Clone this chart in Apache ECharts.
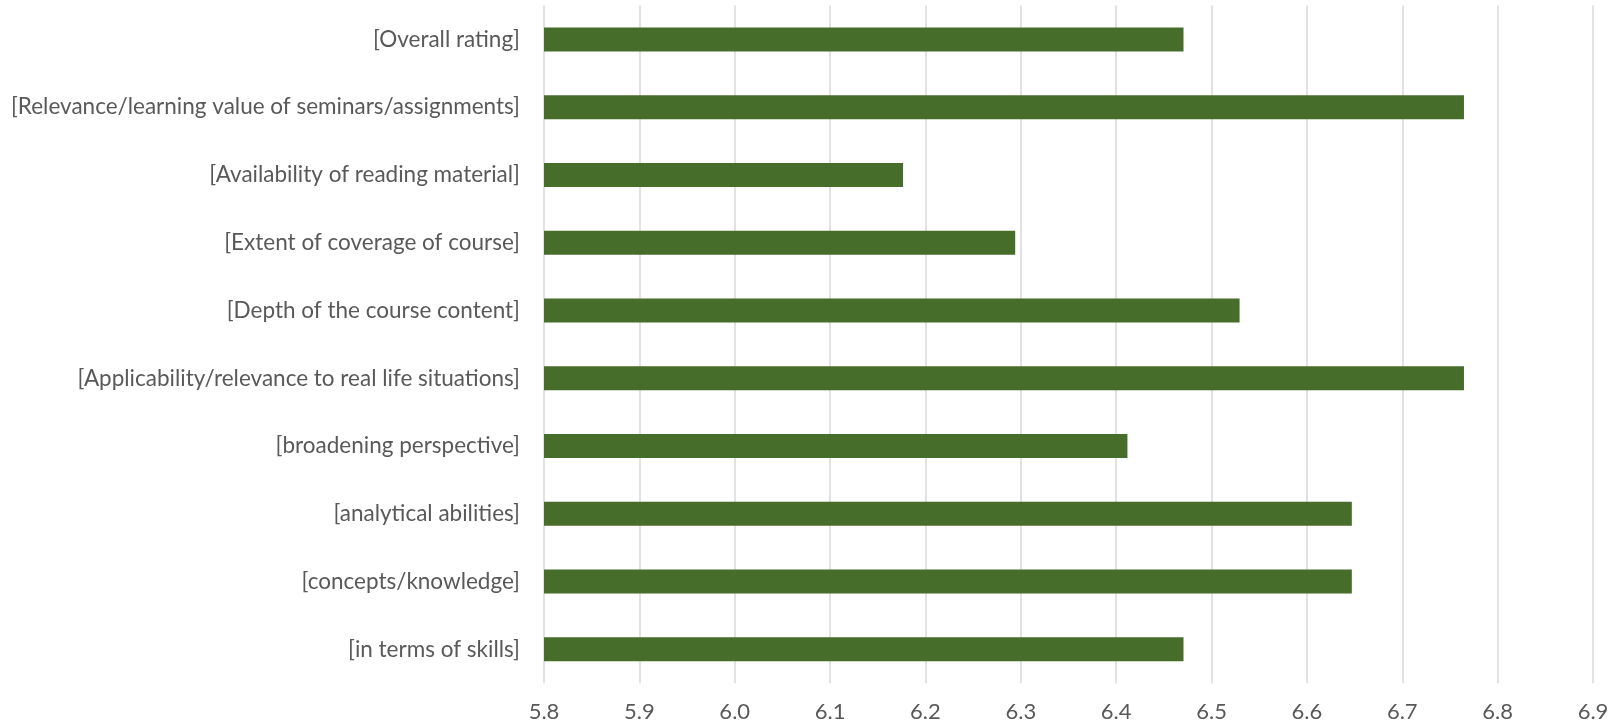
<!DOCTYPE html>
<html>
<head>
<meta charset="utf-8">
<script src="https://cdn.jsdelivr.net/npm/echarts@6/dist/echarts.min.js"></script>
<style>
html,body{margin:0;padding:0;background:#fff;}
#chart{width:1619px;height:728px;}
</style>
</head>
<body>
<div id="chart"></div>
<script>
const categories = [
  "[Overall rating]",
  "[Relevance/learning value of seminars/assignments]",
  "[Availability of reading material]",
  "[Extent of coverage of course]",
  "[Depth of the course content]",
  "[Applicability/relevance to real life situations]",
  "[broadening perspective]",
  "[analytical abilities]",
  "[concepts/knowledge]",
  "[in terms of skills]"
];
const values = [6.4706, 6.7647, 6.1765, 6.2941, 6.5294, 6.7647, 6.4118, 6.6471, 6.6471, 6.4706];
const xMin = 5.8, xMax = 6.9, xStep = 0.1;

const chart = echarts.init(document.getElementById('chart'), null, {renderer: 'canvas'});
chart.setOption({
  animation: false,
  backgroundColor: '#ffffff',
  grid: {left: 544, right: 26, top: 5.6, bottom: 44.8, containLabel: false},
  xAxis: {
    type: 'value', min: xMin, max: xMax, interval: xStep,
    axisLine: {show: false}, axisTick: {show: false},
    splitLine: {show: true, lineStyle: {color: '#d9d9d9', width: 1.5}},
    axisLabel: {color: '#595959', fontFamily: 'Lato', fontSize: 22, margin: 18,
      formatter: v => v.toFixed(1)}
  },
  yAxis: {
    type: 'category', data: categories, inverse: true,
    axisLine: {show: false}, axisTick: {show: false},
    axisLabel: {color: '#595959', fontFamily: 'Lato', fontSize: 22.5, margin: 24}
  },
  series: [{
    type: 'bar', data: values, barWidth: 24,
    itemStyle: {color: '#476d2b'}
  }]
});
</script>
</body>
</html>
